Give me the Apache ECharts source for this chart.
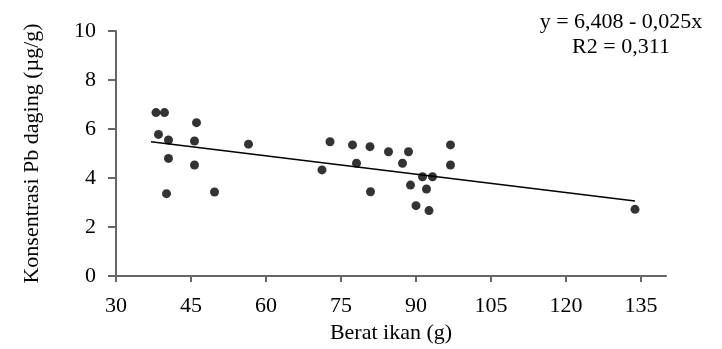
<!DOCTYPE html>
<html>
<head>
<meta charset="utf-8">
<script src="https://cdn.jsdelivr.net/npm/echarts@6/dist/echarts.min.js"></script>
<style>html,body{margin:0;padding:0;background:#fff}#c{width:722px;height:349px}</style>
</head>
<body>
<div id="c"></div>
<script>
// Berat ikan (g)
var beratIkan = [38.0, 39.7, 46.1, 38.5, 40.5, 45.7, 56.5, 40.5, 45.7, 40.1, 49.7,
  72.8, 77.3, 80.8, 84.5, 88.5, 96.9, 78.1, 87.3, 96.9, 71.2, 91.3, 93.3, 88.9, 92.1, 80.9, 90.0, 92.6, 133.8];
// Konsentrasi Pb daging (µg/g)
var pbDaging = [6.67, 6.67, 6.26, 5.78, 5.55, 5.51, 5.38, 4.80, 4.53, 3.36, 3.43,
  5.48, 5.35, 5.28, 5.07, 5.07, 5.35, 4.60, 4.60, 4.53, 4.33, 4.05, 4.05, 3.71, 3.55, 3.44, 2.87, 2.67, 2.72];
// Trend line end points (x, y)
var trendX = [37.0, 133.8];
var trendY = [5.48, 3.06];
var xTicks = [30, 45, 60, 75, 90, 105, 120, 135];
var yTicks = [0, 2, 4, 6, 8, 10];
var equationText = ['y = 6,408 - 0,025x', 'R2 = 0,311'];

var font = 'Liberation Serif';
var chart = echarts.init(document.getElementById('c'), null, {renderer: 'canvas'});
var pts = beratIkan.map(function (x, i) { return [x, pbDaging[i]]; });
var line = trendX.map(function (x, i) { return [x, trendY[i]]; });

chart.setOption({
  animation: false,
  backgroundColor: '#fff',
  grid: {left: 116, right: 56, top: 31, bottom: 73, containLabel: false},
  title: {
    text: equationText.join('\n'),
    left: 616, top: 5, textAlign: 'center',
    textStyle: {fontFamily: font, fontSize: 22, fontWeight: 'normal', color: '#000', lineHeight: 25}
  },
  xAxis: {
    type: 'value', min: 30, max: 140, interval: 15,
    name: 'Berat ikan (g)', nameLocation: 'middle', nameGap: 44,
    nameTextStyle: {fontFamily: font, fontSize: 22, color: '#000'},
    splitLine: {show: false},
    axisLine: {show: true, onZero: false, lineStyle: {color: '#666', width: 2}},
    axisTick: {show: true, inside: false, length: 6, lineStyle: {color: '#666', width: 2}, customValues: xTicks},
    axisLabel: {fontFamily: font, fontSize: 22, color: '#000', margin: 19, customValues: xTicks}
  },
  yAxis: {
    type: 'value', min: 0, max: 10, interval: 2,
    name: 'Konsentrasi Pb daging (µg/g)', nameLocation: 'middle', nameGap: 73, nameRotate: 90,
    nameTextStyle: {fontFamily: font, fontSize: 22, color: '#000'},
    splitLine: {show: false},
    axisLine: {show: true, lineStyle: {color: '#666', width: 2}},
    axisTick: {show: true, length: 8, lineStyle: {color: '#666', width: 2}, customValues: yTicks},
    axisLabel: {fontFamily: font, fontSize: 22, color: '#000', margin: 20, customValues: yTicks}
  },
  series: [
    {
      type: 'line', data: line, symbol: 'none', silent: true,
      lineStyle: {color: '#000', width: 1.5}
    },
    {
      type: 'scatter', data: pts, symbol: 'circle', symbolSize: 9,
      itemStyle: {color: '#000'}
    }
  ]
});
</script>
</body>
</html>
